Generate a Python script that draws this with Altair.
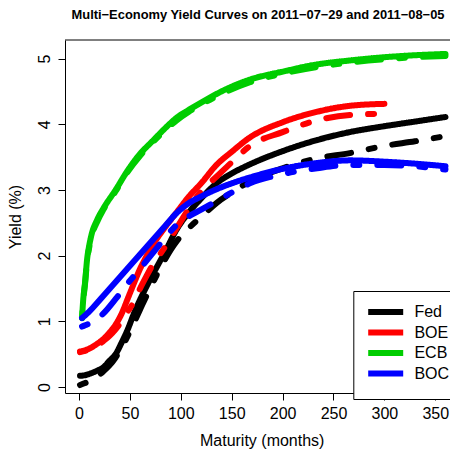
import altair as alt
import pandas as pd

# ---- data ----
econ_names = ["Fed", "BOE", "ECB", "BOC"]
econ_colors = ["#000000", "#FF0000", "#00CD00", "#0000FF"]
dates = ["2011-07-29", "2011-08-05"]

fed_m = [1, 6, 12, 18, 24, 30, 36, 42, 48, 54, 60, 66, 72, 84, 96, 108, 120, 135, 150, 168, 200, 234, 266, 300, 330, 360]
fed_0729 = [0.17, 0.18, 0.21, 0.25, 0.30, 0.40, 0.50, 0.68, 0.88, 1.12, 1.33, 1.52, 1.70, 2.04, 2.40, 2.66, 2.87, 3.10, 3.25, 3.39, 3.59, 3.76, 3.88, 3.97, 4.04, 4.11]
fed_0805 = [0.03, 0.06, 0.10, 0.16, 0.24, 0.33, 0.45, 0.60, 0.78, 0.98, 1.18, 1.38, 1.57, 1.93, 2.22, 2.42, 2.59, 2.80, 2.96, 3.13, 3.33, 3.48, 3.56, 3.67, 3.74, 3.82]

boe_m = [1, 6, 12, 18, 24, 30, 36, 42, 48, 54, 60, 66, 72, 84, 96, 108, 120, 135, 150, 168, 200, 234, 266, 300]
boe_0729 = [0.54, 0.56, 0.60, 0.66, 0.73, 0.83, 0.95, 1.12, 1.35, 1.58, 1.80, 1.98, 2.15, 2.42, 2.66, 2.90, 3.10, 3.38, 3.58, 3.80, 4.03, 4.19, 4.28, 4.31]
boe_0805 = [0.53, 0.55, 0.58, 0.63, 0.70, 0.78, 0.88, 1.00, 1.15, 1.30, 1.50, 1.68, 1.85, 2.12, 2.42, 2.72, 2.98, 3.20, 3.42, 3.67, 3.88, 4.06, 4.14, 4.16]

ecb_m = [3, 4, 6, 8, 10, 12, 18, 24, 36, 48, 60, 72, 84, 96, 108, 120, 144, 168, 200, 234, 266, 300, 330, 360]
ecb_0729 = [1.05, 1.30, 1.60, 1.95, 2.15, 2.30, 2.55, 2.72, 3.00, 3.30, 3.55, 3.74, 3.93, 4.10, 4.22, 4.33, 4.53, 4.68, 4.80, 4.91, 4.97, 5.02, 5.05, 5.07]
ecb_0805 = [1.05, 1.28, 1.58, 1.92, 2.12, 2.27, 2.52, 2.70, 2.98, 3.28, 3.52, 3.72, 3.90, 4.06, 4.19, 4.30, 4.49, 4.64, 4.77, 4.87, 4.94, 4.99, 5.02, 5.04]

boc_m = [3, 6, 12, 24, 36, 48, 60, 72, 84, 96, 108, 120, 135, 150, 168, 200, 234, 266, 300, 330, 360]
boc_0729 = [1.05, 1.09, 1.18, 1.39, 1.60, 1.81, 2.02, 2.23, 2.44, 2.65, 2.80, 2.90, 3.01, 3.10, 3.19, 3.32, 3.41, 3.45, 3.43, 3.40, 3.36]
boc_0805 = [0.92, 0.94, 0.98, 1.12, 1.34, 1.58, 1.80, 2.03, 2.26, 2.47, 2.60, 2.70, 2.83, 2.96, 3.10, 3.24, 3.33, 3.38, 3.38, 3.36, 3.31]

x_ticks = [0, 50, 100, 150, 200, 250, 300, 350]
y_ticks = [0, 1, 2, 3, 4, 5]

series = [
    ("Fed", fed_m, fed_0729, fed_0805),
    ("BOE", boe_m, boe_0729, boe_0805),
    ("ECB", ecb_m, ecb_0729, ecb_0805),
    ("BOC", boc_m, boc_0729, boc_0805),
]
rows = []
for name, months, v1, v2 in series:
    for d, vals in zip(dates, (v1, v2)):
        for m, v in zip(months, vals):
            rows.append({"econ": name, "date": d, "maturity": m, "yield": v})
df = pd.DataFrame(rows)

W, H = 385, 353
PX_PER_MONTH = 1.018
X_MIN = -13.75
X_MAX = X_MIN + W / PX_PER_MONTH
FONT = "Liberation Sans"

lines = alt.Chart(df).mark_line(strokeWidth=6, strokeCap="round", strokeJoin="round",
                                interpolate="monotone").encode(
    x=alt.X("maturity:Q",
            scale=alt.Scale(domain=[X_MIN, X_MAX], nice=False, zero=False),
            axis=alt.Axis(values=x_ticks, title="Maturity (months)", titleX=196.7,
                          titleY=52.5, titleBaseline="alphabetic", titleAnchor="middle",
                          labelPadding=18.7, labelBaseline="alphabetic")),
    y=alt.Y("yield:Q",
            scale=alt.Scale(domain=[-0.091, 5.282], nice=False, zero=False),
            axis=alt.Axis(values=y_ticks, title="Yield (%)", titleX=-45, titleY=H / 2,
                          titleBaseline="alphabetic", titleAngle=270, titleAnchor="middle",
                          labelAngle=270, labelAlign="center", labelBaseline="alphabetic",
                          labelPadding=9)),
    color=alt.Color("econ:N", sort=econ_names,
                    scale=alt.Scale(domain=econ_names, range=econ_colors),
                    legend=alt.Legend(title=None, orient="none", legendX=288.3, legendY=251,
                                      symbolType="M-5,0H5", symbolStrokeWidth=6, symbolSize=49,
                                      symbolOffset=11.4, labelOffset=20.7,
                                      labelFontSize=16, labelFont=FONT,
                                      padding=13, strokeColor="black", fillColor="white",
                                      rowPadding=-3.5, labelColor="black")),
    strokeDash=alt.StrokeDash("date:N",
                              scale=alt.Scale(domain=dates, range=[[1, 0], [6, 18, 24, 18]]),
                              legend=None),
    detail="date:N",
)

top_border = alt.Chart(pd.DataFrame({"k": [0]})).mark_rule(color="black", strokeWidth=1).encode(
    x=alt.value(0), x2=alt.value(W), y=alt.value(0)
)

chart = alt.layer(lines, top_border).properties(
    width=W, height=H,
    autosize=alt.AutoSizeParams(type="none"),
    padding={"left": 57, "top": 32, "right": 0, "bottom": 57},
    title=alt.TitleParams(
        "Multi\u2212Economy Yield Curves on 2011\u221207\u221229 and 2011\u221208\u221205",
        fontSize=12.9, fontWeight="bold", font=FONT, anchor="middle", frame="group",
        baseline="alphabetic", offset=7.9, dx=0.5, color="black"),
).configure_view(stroke=None).configure_axis(
    grid=False, domainColor="black", tickColor="black", tickSize=7, labelColor="black",
    titleColor="black", labelFont=FONT, titleFont=FONT, labelFontSize=16, titleFontSize=16,
    titleFontWeight="normal", domainWidth=1, tickWidth=1, labelFlush=False, labelOverlap=False,
)

chart.save("out.html", embed_options={"renderer": "svg", "actions": False})
